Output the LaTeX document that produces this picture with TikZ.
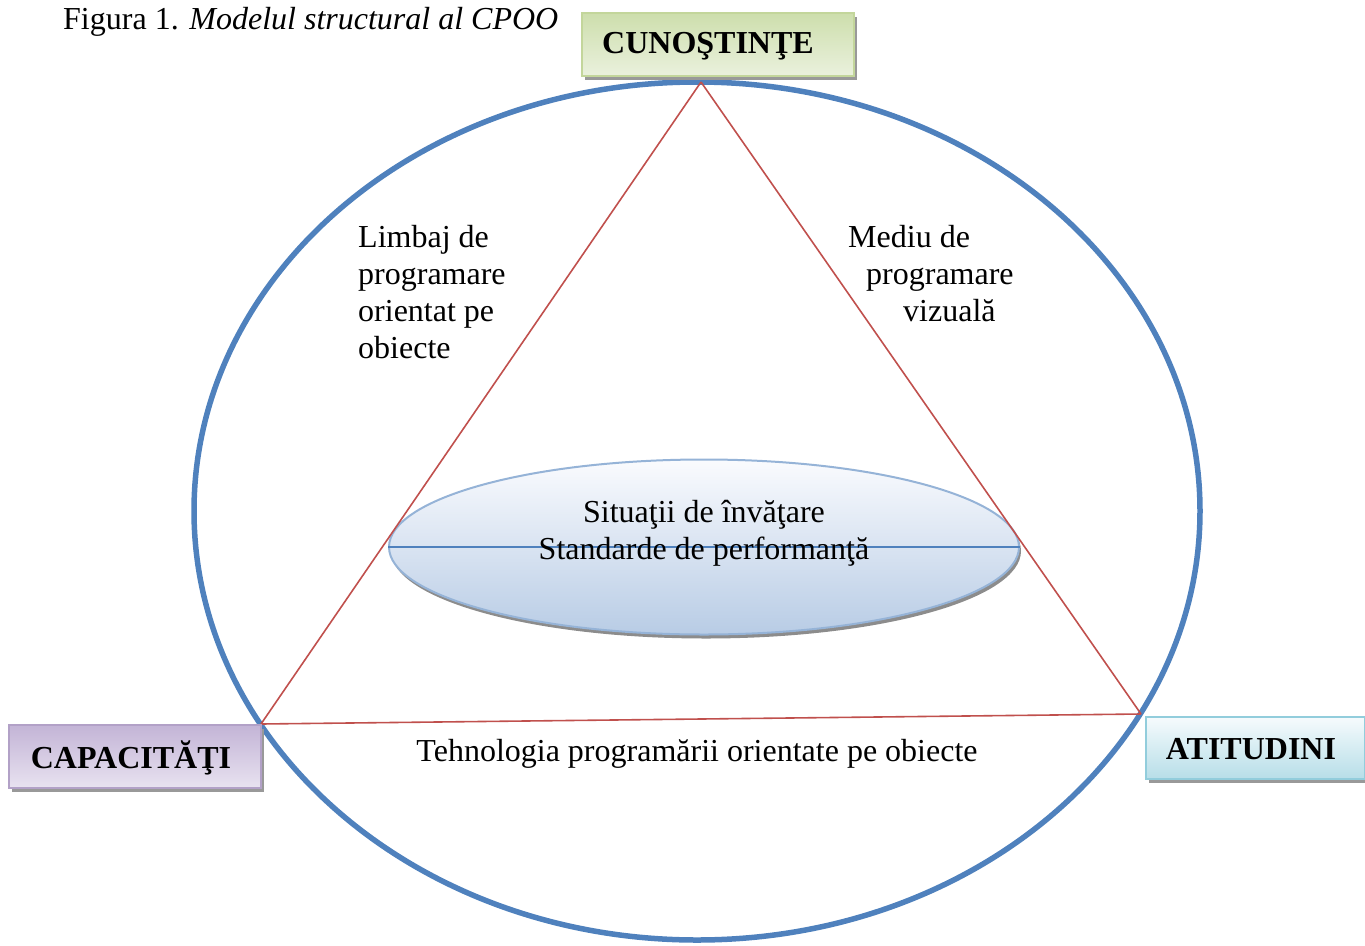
\documentclass[tikz,border=0pt]{standalone}
\usepackage{fontspec}
\setmainfont{Liberation Serif}
\usetikzlibrary{shadows,shapes.geometric}
\definecolor{ringblue}{RGB}{79,129,189}
\definecolor{trired}{RGB}{192,80,77}
\definecolor{greenA}{RGB}{205,222,172}
\definecolor{greenB}{RGB}{234,241,221}
\definecolor{greenE}{RGB}{195,214,155}
\definecolor{purpA}{RGB}{195,180,214}
\definecolor{purpB}{RGB}{232,226,240}
\definecolor{purpE}{RGB}{178,161,199}
\definecolor{cyanA}{RGB}{246,251,253}
\definecolor{cyanB}{RGB}{183,222,232}
\definecolor{cyanE}{RGB}{146,205,220}
\definecolor{ellA}{RGB}{250,251,254}
\definecolor{ellB}{RGB}{184,204,229}
\definecolor{ellE}{RGB}{149,179,215}
\tikzset{
  labelbox/.style={draw, line width=1.5pt, rectangle, inner sep=0pt,
    minimum height=63pt,
    drop shadow={shadow xshift=3pt, shadow yshift=-4pt, fill=black!40, opacity=1}},
  boxtext/.style={font=\fontsize{32}{34}\selectfont\bfseries, inner sep=0pt},
  plaintext/.style={font=\fontsize{32}{37}\selectfont, inner sep=0pt},
  triline/.style={draw=trired, line width=1.6pt},
}
\begin{document}
\begin{tikzpicture}[x=1pt,y=-1pt]
\useasboundingbox (0,0) rectangle (1365,945);
% outer ring
\draw[ringblue, line width=5.5pt] (697,511) ellipse [x radius=503, y radius=429];
% inner ellipse
\node[ellipse, minimum width=630pt, minimum height=175pt, draw=ellE, line width=2pt,
  top color=ellA, bottom color=ellB,
  drop shadow={shadow xshift=2pt, shadow yshift=-4pt, fill=black!45, opacity=1}] (inner) at (704,547) {};
\draw[ringblue, line width=2pt] (inner.west) -- (inner.east);
\node[plaintext, align=center] (innertext) at (704,533) {Situaţii de învăţare\\Standarde de performanţă};
% triangle vertices
\coordinate (vtop) at (701,82);
\coordinate (vleft) at (261,724);
\coordinate (vright) at (1141,714);
\draw[triline] (vtop) -- (vleft);
\draw[triline] (vtop) -- (vright);
\draw[triline] (vleft) -- (vright);
% boxes
\node[labelbox, draw=greenE, top color=greenA, bottom color=greenB, minimum width=272pt, anchor=north west] (cun) at (581,12) {};
\node[boxtext] (cuntext) at (708,46) {CUNOŞTINŢE};
\node[labelbox, draw=purpE, top color=purpA, bottom color=purpB, minimum width=252pt, anchor=north west] (cap) at (8,724) {};
\node[boxtext] (captext) at (131,758) {CAPACITĂŢI};
\node[labelbox, draw=cyanE, top color=cyanA, bottom color=cyanB, minimum width=219pt, minimum height=62pt, anchor=north west] (ati) at (1145,716) {};
\node[boxtext] (atitext) at (1251,749) {ATITUDINI};
% title
\node[plaintext, anchor=west] (title) at (63,22) {Figura 1. \textit{Modelul structural al CPOO}};
% side labels
\node[plaintext, align=left, anchor=north west] (limbaj) at (358,225) {Limbaj de\\programare\\orientat pe\\obiecte};
\node[plaintext, align=left, anchor=north west] (mediu) at (848,225) {Mediu de\\\hspace*{18pt}programare\\\hspace*{55pt}vizuală};
\node[plaintext] (tehn) at (697,754) {Tehnologia programării orientate pe obiecte};
\end{tikzpicture}
\end{document}
